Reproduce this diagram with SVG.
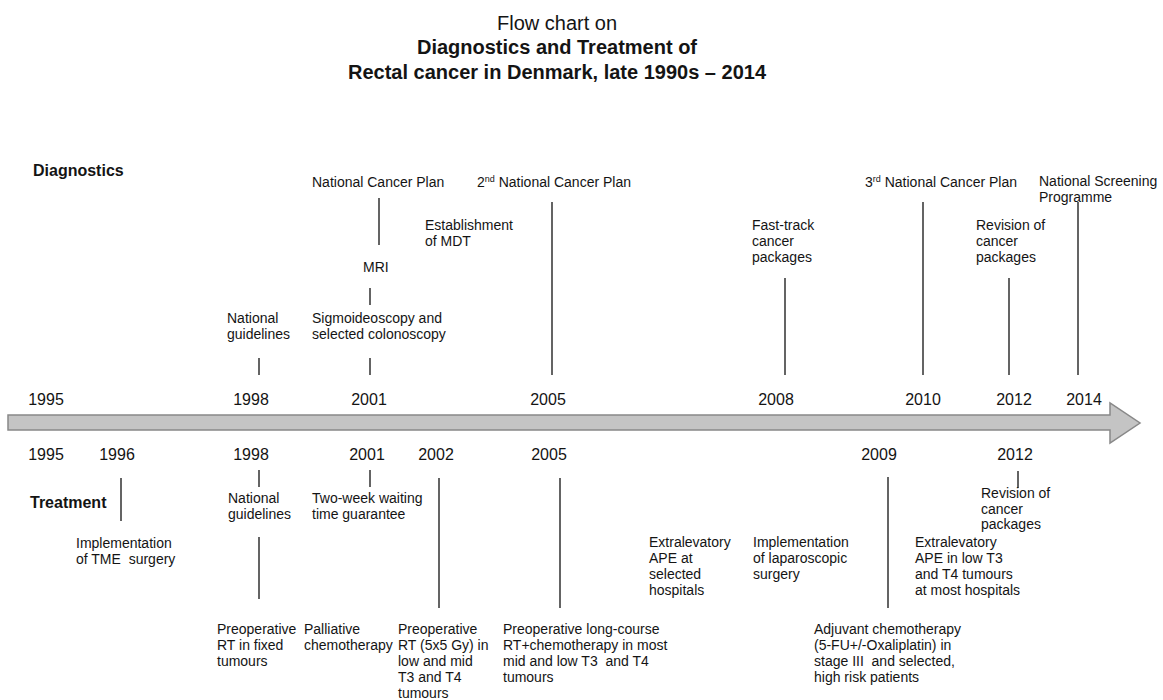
<svg xmlns="http://www.w3.org/2000/svg" width="1163" height="700" viewBox="0 0 1163 700">
<style>
text{font-family:"Liberation Sans",Arial,sans-serif;fill:#141414;white-space:pre}
.t{font-size:20px;text-anchor:middle}
.b{font-weight:bold}
.h{font-size:16px;font-weight:bold}
.y{font-size:16px;text-anchor:middle}
.l{font-size:14px}
.sup{font-size:9px}
.c line{stroke:#303030;stroke-width:1.5}
</style>
<rect width="1163" height="700" fill="#fff"/>
<g id="title">
<text class="t" x="557" y="30">Flow chart on</text>
<text class="t b" x="557" y="54">Diagnostics and Treatment of</text>
<text class="t b" x="557" y="79">Rectal cancer in Denmark, late 1990s – 2014</text>
</g>
<g id="timeline">
<polygon points="8,415 1110,415 1110,403 1140,423 1110,443 1110,430 8,430" fill="#c4c4c4" stroke="#888" stroke-width="1.5"/>
</g>
<g id="sections">
<text class="h" x="33" y="176">Diagnostics</text>
<text class="h" x="30" y="508">Treatment</text>
</g>
<g id="years-top">
<text class="y" x="46" y="405">1995</text>
<text class="y" x="251" y="405">1998</text>
<text class="y" x="369" y="405">2001</text>
<text class="y" x="548" y="405">2005</text>
<text class="y" x="776" y="405">2008</text>
<text class="y" x="923" y="405">2010</text>
<text class="y" x="1014" y="405">2012</text>
<text class="y" x="1084" y="405">2014</text>
</g>
<g id="years-bottom">
<text class="y" x="46" y="460">1995</text>
<text class="y" x="117" y="460">1996</text>
<text class="y" x="251" y="460">1998</text>
<text class="y" x="367" y="460">2001</text>
<text class="y" x="436" y="460">2002</text>
<text class="y" x="549" y="460">2005</text>
<text class="y" x="879" y="460">2009</text>
<text class="y" x="1015" y="460">2012</text>
</g>
<g id="connectors" class="c">
<line x1="379" y1="198" x2="379" y2="245"/>
<line x1="370" y1="288" x2="370" y2="305"/>
<line x1="370" y1="358" x2="370" y2="375"/>
<line x1="259" y1="358" x2="259" y2="375"/>
<line x1="552" y1="202" x2="552" y2="375"/>
<line x1="785" y1="278" x2="785" y2="375"/>
<line x1="923" y1="202" x2="923" y2="375"/>
<line x1="1009" y1="278" x2="1009" y2="375"/>
<line x1="1078" y1="202" x2="1078" y2="375"/>
<line x1="121" y1="478" x2="121" y2="521"/>
<line x1="259" y1="470" x2="259" y2="487"/>
<line x1="259" y1="537" x2="259" y2="599"/>
<line x1="370" y1="470" x2="370" y2="487"/>
<line x1="439" y1="478" x2="439" y2="608"/>
<line x1="560" y1="478" x2="560" y2="608"/>
<line x1="888" y1="477" x2="888" y2="608"/>
<line x1="1018" y1="471" x2="1018" y2="488"/>
</g>
<g id="d-ncp"><text class="l" x="312" y="187">National Cancer Plan</text></g>
<g id="d-mri"><text class="l" x="363" y="272">MRI</text></g>
<g id="d-sigmo"><text class="l" x="312" y="323">Sigmoideoscopy and</text><text class="l" x="312" y="339">selected colonoscopy</text></g>
<g id="d-guide"><text class="l" x="227" y="323">National</text><text class="l" x="227" y="339">guidelines</text></g>
<g id="d-ncp2"><text class="l" x="477" y="187">2<tspan class="sup" dy="-5">nd</tspan><tspan dy="5"> National Cancer Plan</tspan></text></g>
<g id="d-mdt"><text class="l" x="425" y="230">Establishment</text><text class="l" x="425" y="246">of MDT</text></g>
<g id="d-fast"><text class="l" x="752" y="230">Fast-track</text><text class="l" x="752" y="246">cancer</text><text class="l" x="752" y="262">packages</text></g>
<g id="d-ncp3"><text class="l" x="865" y="187">3<tspan class="sup" dy="-5">rd</tspan><tspan dy="5"> National Cancer Plan</tspan></text></g>
<g id="d-screen"><text class="l" x="1039" y="186">National Screening</text><text class="l" x="1039" y="202">Programme</text></g>
<g id="d-revision"><text class="l" x="976" y="230">Revision of</text><text class="l" x="976" y="246">cancer</text><text class="l" x="976" y="262">packages</text></g>
<g id="t-tme"><text class="l" x="76" y="548">Implementation</text><text class="l" x="76" y="564">of TME  surgery</text></g>
<g id="t-guide"><text class="l" x="228" y="503">National</text><text class="l" x="228" y="519">guidelines</text></g>
<g id="t-wait"><text class="l" x="312" y="503">Two-week waiting</text><text class="l" x="312" y="519">time guarantee</text></g>
<g id="t-rtfixed"><text class="l" x="217" y="634">Preoperative</text><text class="l" x="217" y="650">RT in fixed</text><text class="l" x="217" y="666">tumours</text></g>
<g id="t-palliative"><text class="l" x="304" y="634">Palliative</text><text class="l" x="304" y="650">chemotherapy</text></g>
<g id="t-5x5"><text class="l" x="398" y="634">Preoperative</text><text class="l" x="398" y="650">RT (5x5 Gy) in</text><text class="l" x="398" y="666">low and mid</text><text class="l" x="398" y="682">T3 and T4</text><text class="l" x="398" y="698">tumours</text></g>
<g id="t-longcourse"><text class="l" x="503" y="634">Preoperative long-course</text><text class="l" x="503" y="650">RT+chemotherapy in most</text><text class="l" x="503" y="666">mid and low T3  and T4</text><text class="l" x="503" y="682">tumours</text></g>
<g id="t-ape1"><text class="l" x="649" y="547">Extralevatory</text><text class="l" x="649" y="563">APE at</text><text class="l" x="649" y="579">selected</text><text class="l" x="649" y="595">hospitals</text></g>
<g id="t-lap"><text class="l" x="753" y="547">Implementation</text><text class="l" x="753" y="563">of laparoscopic</text><text class="l" x="753" y="579">surgery</text></g>
<g id="t-ape2"><text class="l" x="915" y="547">Extralevatory</text><text class="l" x="915" y="563">APE in low T3</text><text class="l" x="915" y="579">and T4 tumours</text><text class="l" x="915" y="595">at most hospitals</text></g>
<g id="t-adjuvant"><text class="l" x="814" y="634">Adjuvant chemotherapy</text><text class="l" x="814" y="650">(5-FU+/-Oxaliplatin) in</text><text class="l" x="814" y="666">stage III  and selected,</text><text class="l" x="814" y="682">high risk patients</text></g>
<g id="t-revision"><text class="l" x="981" y="498">Revision of</text><text class="l" x="981" y="514">cancer</text><text class="l" x="981" y="529">packages</text></g>
</svg>
